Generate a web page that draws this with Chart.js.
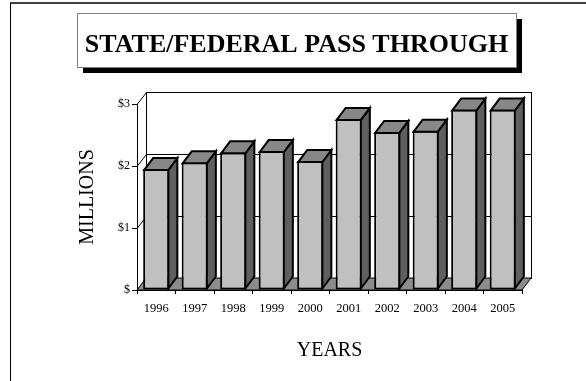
<!DOCTYPE html>
<html>
<head>
<meta charset="utf-8">
<title>State/Federal Pass Through</title>
<script src="https://cdn.jsdelivr.net/npm/chart.js@4"></script>
<style>
  html, body { margin: 0; padding: 0; background: #fff; }
  #wrap { width: 586px; height: 381px; }
</style>
</head>
<body>
<div id="wrap"><canvas id="passChart" width="586" height="381"></canvas></div>
<script>
// pass-through funding by year, in millions of dollars
var years = ['1996', '1997', '1998', '1999', '2000', '2001', '2002', '2003', '2004', '2005'];
var millions = [1.95, 2.06, 2.22, 2.24, 2.08, 2.76, 2.55, 2.57, 2.91, 2.91];
var yTickValues = [0, 1, 2, 3];
var yTickLabels = ['$', '$1', '$2', '$3'];
var titleText = 'STATE/FEDERAL PASS THROUGH';

// depth of the fake 3D box
var DX = 9, DY = -12;
var SERIF = '"Liberation Serif", "Times New Roman", serif';

function poly(ctx, pts, fill) {
  ctx.beginPath();
  ctx.moveTo(pts[0][0], pts[0][1]);
  for (var i = 1; i < pts.length; i++) ctx.lineTo(pts[i][0], pts[i][1]);
  ctx.closePath();
  if (fill) { ctx.fillStyle = fill; ctx.fill(); }
  ctx.stroke();
}

var box3d = {
  id: 'box3d',
  beforeDraw: function (chart) {
    var ctx = chart.ctx;
    ctx.save();
    // page frame
    ctx.strokeStyle = '#404040';
    ctx.lineWidth = 2;
    ctx.beginPath(); ctx.moveTo(10, 3); ctx.lineTo(586, 3); ctx.stroke();
    ctx.strokeStyle = '#000';
    ctx.lineWidth = 1;
    ctx.beginPath(); ctx.moveTo(10.5, 3); ctx.lineTo(10.5, 381); ctx.stroke();
    // title box with drop shadow
    ctx.fillStyle = '#000';
    ctx.fillRect(83, 19, 439, 54);
    ctx.fillStyle = '#fff';
    ctx.fillRect(77, 13, 439, 54);
    ctx.strokeStyle = '#808080';
    ctx.strokeRect(77.5, 13.5, 439, 54);
    ctx.fillStyle = '#000';
    ctx.font = 'bold 26px ' + SERIF;
    ctx.textAlign = 'center';
    ctx.textBaseline = 'alphabetic';
    ctx.fillText(titleText, 296.5, 52);
    ctx.restore();
  },
  beforeDatasetsDraw: function (chart) {
    var a = chart.chartArea, y = chart.scales.y, ctx = chart.ctx;
    ctx.save();
    ctx.strokeStyle = '#000';
    ctx.lineWidth = 1;
    // back wall
    ctx.fillStyle = '#fff';
    ctx.fillRect(a.left + DX, a.top + DY, a.right - a.left, a.bottom - a.top);
    ctx.strokeRect(a.left + DX + 0.5, a.top + DY + 0.5, a.right - a.left, a.bottom - a.top);
    // gridlines running across the left wall and back wall
    yTickValues.forEach(function (v) {
      var py = Math.round(y.getPixelForValue(v)) + 0.5;
      ctx.beginPath();
      ctx.moveTo(a.left, py);
      ctx.lineTo(a.left + DX + 0.5, py + DY);
      ctx.lineTo(a.right + DX + 0.5, py + DY);
      ctx.stroke();
    });
    ctx.beginPath();
    ctx.moveTo(a.left + DX + 0.5, a.top + DY);
    ctx.lineTo(a.left + DX + 0.5, a.bottom + DY);
    ctx.moveTo(a.left + 0.5, a.top);
    ctx.lineTo(a.left + 0.5, a.bottom);
    ctx.stroke();
    // floor
    poly(ctx, [[a.left, a.bottom], [a.right, a.bottom], [a.right + DX, a.bottom + DY], [a.left + DX, a.bottom + DY]], '#8c8c8c');
    ctx.restore();
  },
  afterDatasetsDraw: function (chart) {
    var ctx = chart.ctx;
    ctx.save();
    ctx.strokeStyle = '#000';
    ctx.lineWidth = 2;
    chart.getDatasetMeta(0).data.forEach(function (bar) {
      var p = bar.getProps(['x', 'y', 'base', 'width'], true);
      var x0 = p.x - p.width / 2 + 1, x1 = p.x + p.width / 2 - 1;
      var yt = p.y + 1, yb = p.base - 1;
      poly(ctx, [[x1, yt], [x1 + DX, yt + DY], [x1 + DX, yb + DY], [x1, yb]], '#5f5f5f');
      poly(ctx, [[x0, yt], [x0 + DX, yt + DY], [x1 + DX, yt + DY], [x1, yt]], '#878787');
    });
    ctx.restore();
  }
};

new Chart(document.getElementById('passChart'), {
  type: 'bar',
  data: {
    labels: years,
    datasets: [{
      data: millions,
      backgroundColor: '#c0c0c0',
      borderColor: '#000',
      borderWidth: 2,
      borderSkipped: false,
      categoryPercentage: 1,
      barPercentage: 0.68
    }]
  },
  options: {
    responsive: false,
    animation: false,
    layout: { padding: { left: 0, top: 104, right: 64, bottom: 0 } },
    plugins: {
      legend: { display: false },
      tooltip: { enabled: false }
    },
    scales: {
      x: {
        afterFit: function (s) { s.height = 91; },
        grid: { drawOnChartArea: false, drawTicks: true, tickLength: 4, color: '#000' },
        border: { display: true, color: '#000' },
        ticks: { color: '#000', padding: 7, maxRotation: 0, autoSkip: false, font: { family: SERIF, size: 12.5 } },
        title: { display: true, text: 'YEARS', color: '#000', padding: { top: 0, bottom: 18 }, font: { family: SERIF, size: 20 } }
      },
      y: {
        min: 0,
        max: 3,
        afterFit: function (s) { s.width = 137; },
        grid: { drawOnChartArea: false, drawTicks: true, tickLength: 5, color: '#000' },
        border: { display: true, color: '#000' },
        ticks: {
          stepSize: 1,
          color: '#000',
          padding: 2,
          font: { family: SERIF, size: 12 },
          callback: function (v) { return yTickLabels[yTickValues.indexOf(v)]; }
        },
        title: { display: true, text: 'MILLIONS', color: '#000', padding: { top: 76, bottom: 0 }, font: { family: SERIF, size: 20 } }
      }
    }
  },
  plugins: [box3d]
});
</script>
</body>
</html>
